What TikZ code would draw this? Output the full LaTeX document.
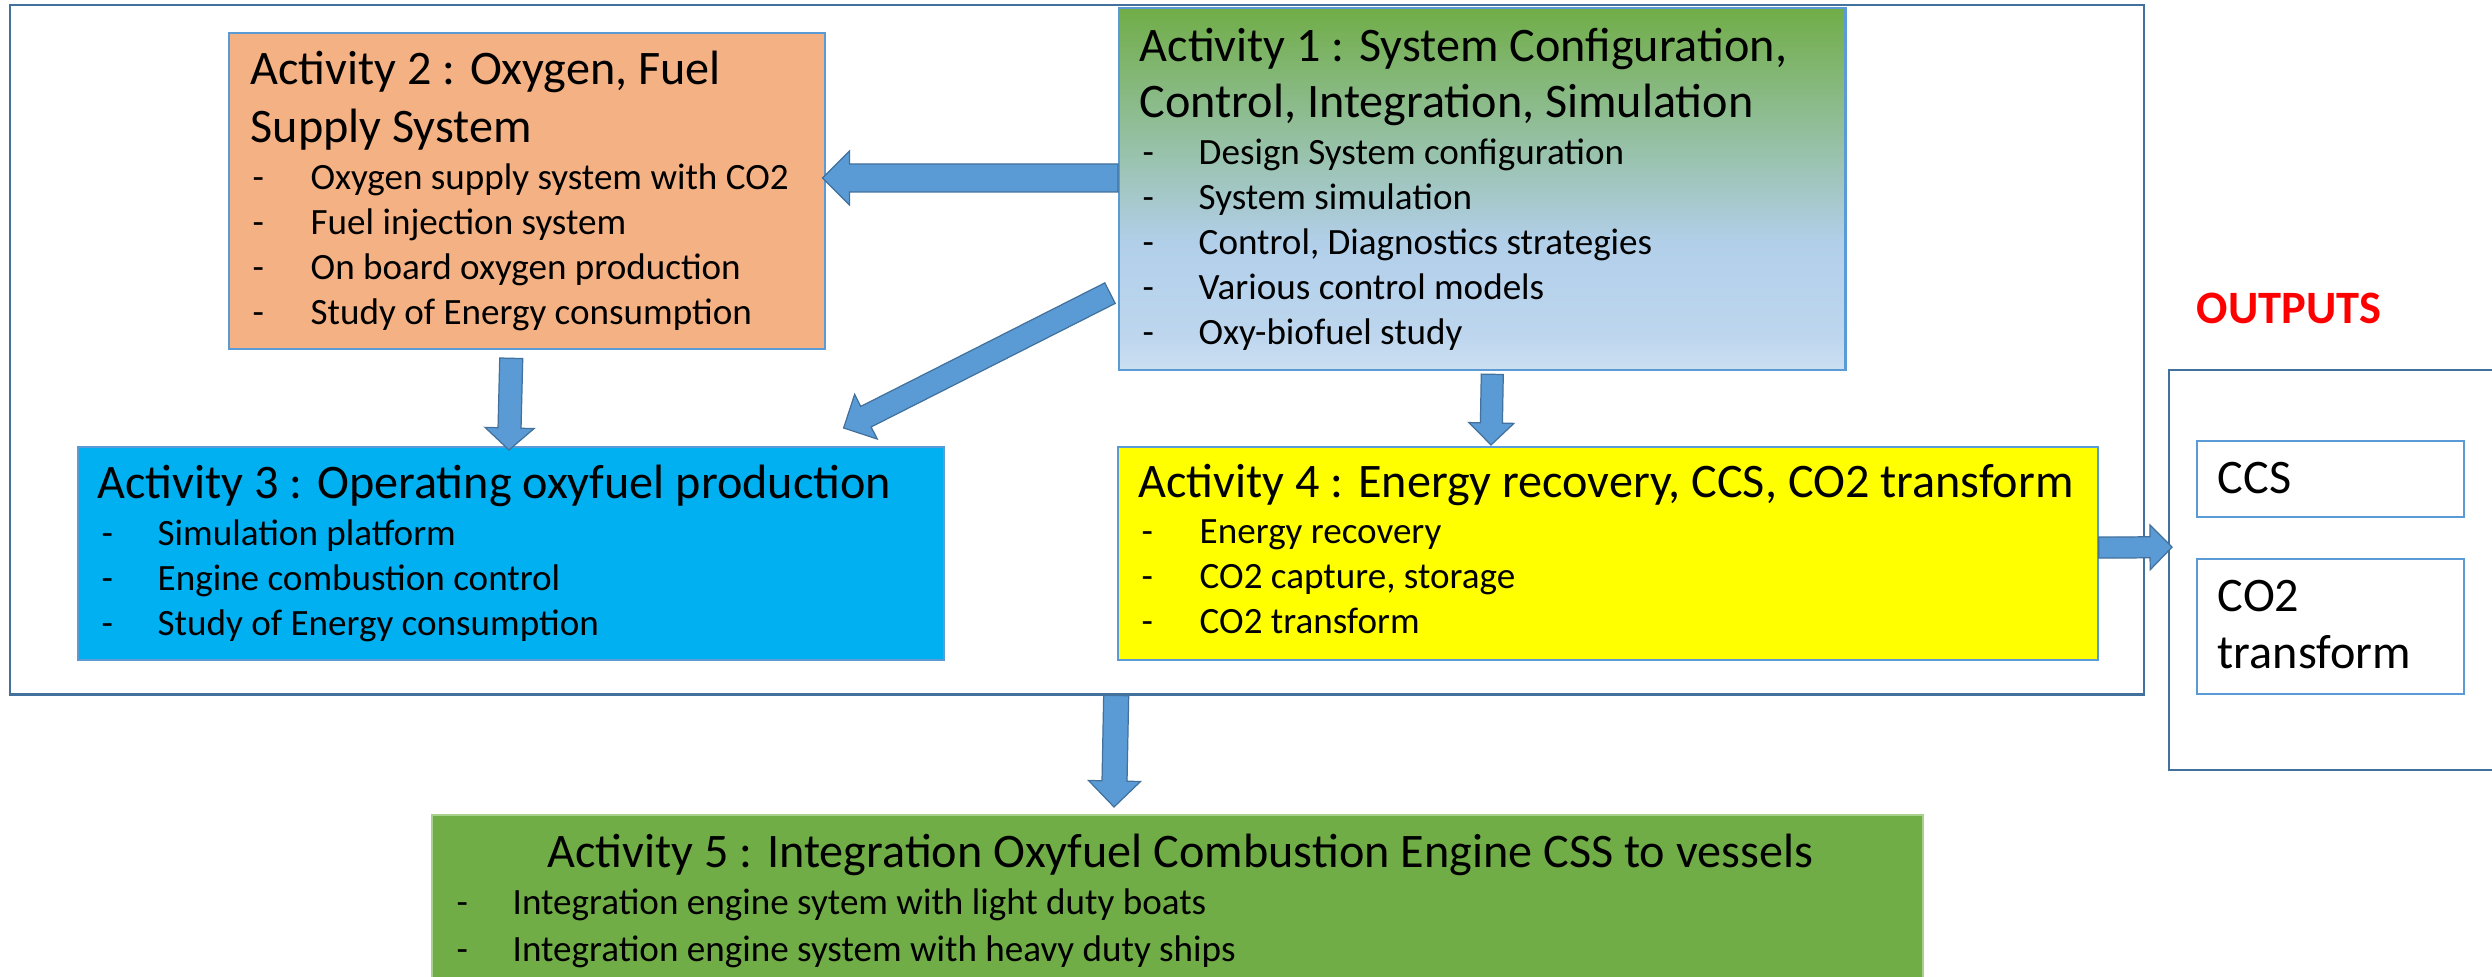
\documentclass[tikz,border=0pt]{standalone}
\usepackage{fontspec}
\setmainfont{Carlito}
\usetikzlibrary{calc}

\definecolor{linkblue}{HTML}{5B9BD5}
\definecolor{darkedge}{HTML}{41719C}
\definecolor{peach}{HTML}{F4B183}
\definecolor{cyanbox}{HTML}{00B0F0}
\definecolor{leaf}{HTML}{70AD47}
\definecolor{leafedge}{HTML}{A9D18E}
\definecolor{skyA}{HTML}{B2CFEA}
\definecolor{skyB}{HTML}{BDD6EE}
\definecolor{skyC}{HTML}{CCDFF2}
\definecolor{alarm}{HTML}{FF0000}
\definecolor{lemon}{HTML}{FFFF00}

% green-to-sky fill of the Activity 1 box (bottom to top)
\pgfdeclareverticalshading{actoneshade}{100bp}{color(0bp)=(skyC); color(25bp)=(skyC); color(30bp)=(skyB); color(42.5bp)=(skyA); color(75bp)=(leaf); color(100bp)=(leaf)}

\tikzset{
  boxst/.style={anchor=north west, inner sep=0pt, line width=0.6pt, draw=linkblue},
  ttl/.style={anchor=base west, inner sep=0pt, font=\fontsize{13.7}{16.4}\selectfont},
  itm/.style={anchor=base west, inner sep=0pt, font=\fontsize{10.55}{12.6}\selectfont},
  arrowbody/.style={fill=linkblue, draw=darkedge, line width=0.35pt, line join=miter},
}

% block arrow: #1 tail, #2 tip, #3 shaft half width, #4 head half width, #5 head length
\newcommand{\blockarrow}[5]{%
  \coordinate (ba-h) at ($(#2)!#5!(#1)$);
  \draw[arrowbody] ($(#1)!#3!90:(#2)$) -- ($(ba-h)!#3!-90:(#1)$) -- ($(ba-h)!#4!-90:(#1)$)
    -- (#2) -- ($(ba-h)!#4!90:(#1)$) -- ($(ba-h)!#3!90:(#1)$) -- ($(#1)!#3!-90:(#2)$) -- cycle;
}

% bullet list: #1 name prefix, #2 dash x, #3 text x, #4 first baseline, #5 items
\newcommand{\itemlist}[5]{%
  \foreach \t [count=\i] in {#5} {
    \node[itm] (#1d\i) at (#2, {#4+45*(\i-1)}) {-};
    \node[itm] (#1t\i) at (#3, {#4+45*(\i-1)}) {\t};
  }
}

\begin{document}
\begin{tikzpicture}[x=0.01cm, y=-0.01cm]
\useasboundingbox (0,0) rectangle (2492,977);
\clip (0,0) rectangle (2492,977);

% frames
\node[boxst, draw=darkedge, minimum width=21.33cm, minimum height=6.89cm] (frame) at (9,4) {};
\node[boxst, draw=darkedge, minimum width=3.52cm, minimum height=4.00cm] (outs) at (2168,369) {};

% activity boxes
\node[boxst, fill=peach, minimum width=5.96cm, minimum height=3.16cm] (a2) at (228,32) {};
\node[boxst, shading=actoneshade, minimum width=7.26cm, minimum height=3.62cm] (a1) at (1118,7) {};
\node[boxst, fill=cyanbox, minimum width=8.65cm, minimum height=2.13cm] (a3) at (77,446) {};
\node[boxst, fill=lemon, minimum width=9.79cm, minimum height=2.13cm] (a4) at (1117,446) {};
\node[boxst, fill=leaf, draw=leafedge, minimum width=14.90cm, minimum height=1.80cm] (a5) at (431,814) {};

% output boxes
\node[boxst, minimum width=2.67cm, minimum height=0.76cm] (ccs) at (2196,440) {};
\node[boxst, minimum width=2.67cm, minimum height=1.35cm] (co2) at (2196,558) {};

% connectors
\blockarrow{$(a1.north west)+(0,171)$}{$(a2.north east)+(-4,146)$}{0.14cm}{0.27cm}{0.27cm}
\blockarrow{$(a2.south)+(-16,8)$}{$(a3.north west)+(432,4)$}{0.115cm}{0.245cm}{0.22cm}
\blockarrow{$(a1.west)+(-8,104)$}{$(a3.north east)+(-101,-18)$}{0.115cm}{0.25cm}{0.25cm}
\blockarrow{$(a1.south)+(10,3)$}{$(a4.north west)+(374,-1)$}{0.11cm}{0.225cm}{0.22cm}
\blockarrow{$(frame.south)+(39,0)$}{$(a5.north west)+(683,-7)$}{0.125cm}{0.26cm}{0.26cm}
\blockarrow{$(a4.east)+(0,-6)$}{$(outs.west)+(4,-23)$}{0.105cm}{0.225cm}{0.22cm}

% Activity 2
\node[ttl] (a2h1) at (250,85) {Activity 2 : Oxygen, Fuel};
\node[ttl] (a2h2) at (250,143) {Supply System};
\itemlist{a2}{252}{310}{190}{Oxygen supply system with CO2, Fuel injection system, On board oxygen production, Study of Energy consumption}

% Activity 1
\node[ttl] (a1h1) at (1139,62) {Activity 1 : System Configuration,};
\node[ttl] (a1h2) at (1139,118) {Control, Integration, Simulation};
\itemlist{a1}{1142}{1198}{165}{Design System configuration, System simulation, {Control, Diagnostics strategies}, Various control models, Oxy-biofuel study}

% Activity 3
\node[ttl] (a3h1) at (97,499) {Activity 3 : Operating oxyfuel production};
\itemlist{a3}{101}{157}{546}{Simulation platform, Engine combustion control, Study of Energy consumption}

% Activity 4
\node[ttl] (a4h1) at (1138,498) {Activity 4 : Energy recovery, CCS, CO2 transform};
\itemlist{a4}{1141}{1199}{544}{Energy recovery, {CO2 capture, storage}, CO2 transform}

% Activity 5
\node[ttl] (a5h1) at (547,867) {Activity 5 : Integration Oxyfuel Combustion Engine CSS to vessels};
\node[itm] (a5d1) at (456,915) {-};
\node[itm] (a5t1) at (512,915) {Integration engine sytem with light duty boats};
\node[itm] (a5d2) at (456,961) {-};
\node[itm] (a5t2) at (512,961) {Integration engine system with heavy duty ships};

% outputs
\node[ttl, font=\fontsize{13.2}{16}\selectfont\bfseries, text=alarm] (outlbl) at (2196,324) {OUTPUTS};
\node[ttl] (ccst) at (2217,494) {CCS};
\node[ttl] (co2a) at (2217,612) {CO2};
\node[ttl] (co2b) at (2217,669) {transform};
\end{tikzpicture}
\end{document}
